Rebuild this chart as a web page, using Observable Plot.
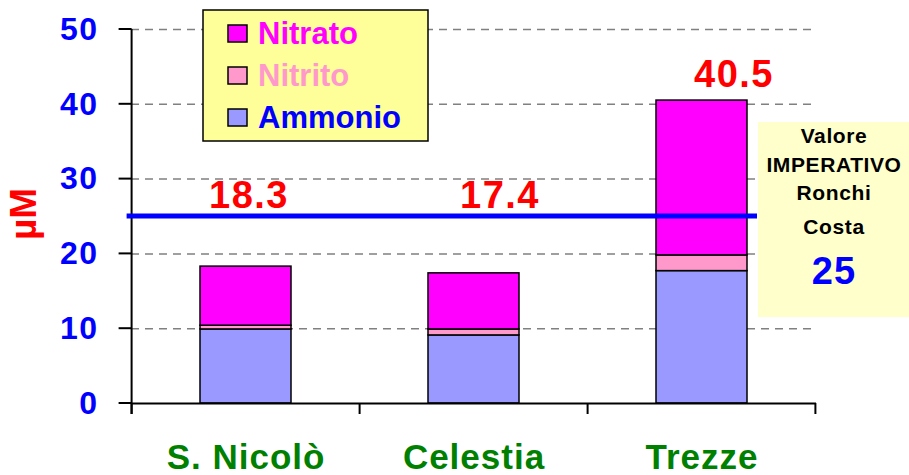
<!DOCTYPE html>
<html>
<head>
<meta charset="utf-8">
<script src="https://cdn.jsdelivr.net/npm/d3@7"></script>
<script src="https://cdn.jsdelivr.net/npm/@observablehq/plot@0.6"></script>
<style>
  html, body { margin: 0; padding: 0; background: #ffffff; }
  #chart { width: 909px; height: 475px; }
</style>
</head>
<body>
<div id="chart"></div>
<script>
// ---------- data ----------
const categories = ["S. Nicolò", "Celestia", "Trezze"];
const ammonio = [9.9, 9.1, 17.7];
const nitrito = [0.5, 0.8, 2.1];
const nitrato = [7.9, 7.5, 20.7];
const totals = [18.3, 17.4, 40.5];
const seriesNames = ["Nitrato", "Nitrito", "Ammonio"];
const stackOrder = ["Ammonio", "Nitrito", "Nitrato"];
const yTicks = [0, 10, 20, 30, 40, 50];
const gridTicks = [10, 20, 30, 40, 50];
const limitValue = 25;
const limitLines = ["Valore", "IMPERATIVO", "Ronchi", "Costa"];
const yLabel = "µM";

// ---------- styles ----------
const fillColors = {Nitrato: "#ff00ff", Nitrito: "#ff99cc", Ammonio: "#9999ff"};
const legendTextColors = {Nitrato: "#ff00ff", Nitrito: "#ff99cc", Ammonio: "#0000ff"};
const FONT = "'Liberation Sans', Arial, Helvetica, sans-serif";
const labelDx = [3, 26, 32];
const labelDy = [-9, -9, -14];

// long table built from the arrays
const rows = [];
categories.forEach((site, i) => {
  rows.push({site, component: "Ammonio", value: ammonio[i]});
  rows.push({site, component: "Nitrito", value: nitrito[i]});
  rows.push({site, component: "Nitrato", value: nitrato[i]});
});
const totalRows = categories.map((site, i) => ({site, total: totals[i]}));

const plot = Plot.plot({
  width: 909,
  height: 475,
  marginLeft: 131,
  marginRight: 93,
  marginTop: 29,
  marginBottom: 72,
  style: {fontFamily: FONT, background: "#ffffff", overflow: "visible"},
  x: {domain: categories, paddingInner: 0.6, paddingOuter: 0.3, axis: null},
  y: {domain: [0, 50], axis: null},
  color: {domain: seriesNames, range: seriesNames.map(s => fillColors[s])},
  marks: [
    Plot.ruleY(gridTicks, {stroke: "#808080", strokeWidth: 1.5, strokeDasharray: "8,6"}),
    Plot.barY(rows, {
      x: "site", y: "value", fill: "component", order: stackOrder,
      stroke: "#000000", strokeWidth: 1.5
    }),
    Plot.ruleY([0], {stroke: "#000000", strokeWidth: 2}),
    Plot.text(yTicks, {
      y: d => d, text: d => String(d), frameAnchor: "left", dx: -33,
      textAnchor: "end", lineAnchor: "middle",
      fill: "#0000ff", fontSize: 32, fontWeight: "bold"
    }),
    Plot.text(categories, {
      x: d => d, text: d => d, frameAnchor: "bottom", dy: 65,
      lineAnchor: "bottom",
      fill: "#008000", fontSize: 35, fontWeight: "bold"
    }),
    ...totalRows.map((r, i) => Plot.text([r], {
      x: "site", y: d => Math.max(d.total, limitValue), text: d => d.total.toFixed(1),
      dx: labelDx[i], dy: labelDy[i], lineAnchor: "bottom",
      fill: "#ff0000", fontSize: 38, fontWeight: "bold"
    }))
  ]
});
document.getElementById("chart").appendChild(plot);

// letter spacing tweaks to match the wider source rendering
d3.select(plot).selectAll("g[aria-label='text'] text").each(function() {
  const fs = +this.parentNode.getAttribute("font-size") || 0;
  if (fs >= 38) this.setAttribute("letter-spacing", "1.5");
  else if (fs >= 35) this.setAttribute("letter-spacing", "1");
  else this.setAttribute("letter-spacing", "1.5");
});

// ---------- extra drawing using the plot's scales ----------
const xs = plot.scale("x");
const ys = plot.scale("y");
const svg = d3.select(plot);
const y0 = ys.apply(0), y50 = ys.apply(50);
const left = xs.apply(categories[0]) - xs.step * 0.3;
const bounds = categories.map(c => xs.apply(c) - xs.step * 0.3);
bounds.push(xs.apply(categories[categories.length - 1]) + xs.bandwidth + xs.step * 0.3);

const g = svg.append("g");
// y axis line + ticks
g.append("line").attr("x1", left).attr("x2", left).attr("y1", y50).attr("y2", y0 + 11)
  .attr("stroke", "#000").attr("stroke-width", 2);
yTicks.forEach(t => {
  g.append("line").attr("x1", left - 13).attr("x2", left).attr("y1", ys.apply(t)).attr("y2", ys.apply(t))
    .attr("stroke", "#000").attr("stroke-width", 2);
});
// x category boundary ticks
bounds.forEach(b => {
  g.append("line").attr("x1", b).attr("x2", b).attr("y1", y0).attr("y2", y0 + 11)
    .attr("stroke", "#000").attr("stroke-width", 2);
});
// limit line
const yl = ys.apply(limitValue);
g.append("line").attr("x1", left - 5).attr("x2", 757).attr("y1", yl).attr("y2", yl)
  .attr("stroke", "#0000ff").attr("stroke-width", 5);

// y label
g.append("text").text(yLabel)
  .attr("transform", `translate(36, ${(y0 + y50) / 2 - 2}) rotate(-90)`)
  .attr("text-anchor", "middle")
  .attr("fill", "#ff0000").attr("font-size", 37).attr("font-weight", "bold")
  .attr("font-family", FONT);

// legend
const lg = svg.append("g");
lg.append("rect").attr("x", 203).attr("y", 10).attr("width", 225).attr("height", 131)
  .attr("fill", "#ffff99").attr("stroke", "#000").attr("stroke-width", 1.5);
const legendBase = [44, 86, 128];
seriesNames.forEach((s, i) => {
  lg.append("rect").attr("x", 228).attr("y", legendBase[i] - 19).attr("width", 19).attr("height", 17)
    .attr("fill", fillColors[s]).attr("stroke", "#000").attr("stroke-width", 1.5);
  lg.append("text").text(s).attr("x", 258).attr("y", legendBase[i])
    .attr("text-anchor", "start")
    .attr("fill", legendTextColors[s]).attr("font-size", 31).attr("font-weight", "bold")
    .attr("font-family", FONT);
});

// annotation box
const ab = svg.append("g");
ab.append("rect").attr("x", 758).attr("y", 122).attr("width", 151).attr("height", 195)
  .attr("fill", "#ffffcc");
const annBase = [143, 172, 200, 234];
limitLines.forEach((t, i) => {
  ab.append("text").text(t).attr("x", 834).attr("y", annBase[i]).attr("text-anchor", "middle")
    .attr("fill", "#000").attr("font-size", 21).attr("font-weight", "bold")
    .attr("letter-spacing", "0.6")
    .attr("font-family", FONT);
});
ab.append("text").text(String(limitValue)).attr("x", 834).attr("y", 284).attr("text-anchor", "middle")
  .attr("fill", "#0000ff").attr("font-size", 38).attr("font-weight", "bold")
  .attr("letter-spacing", "1")
  .attr("font-family", FONT);
</script>
</body>
</html>
